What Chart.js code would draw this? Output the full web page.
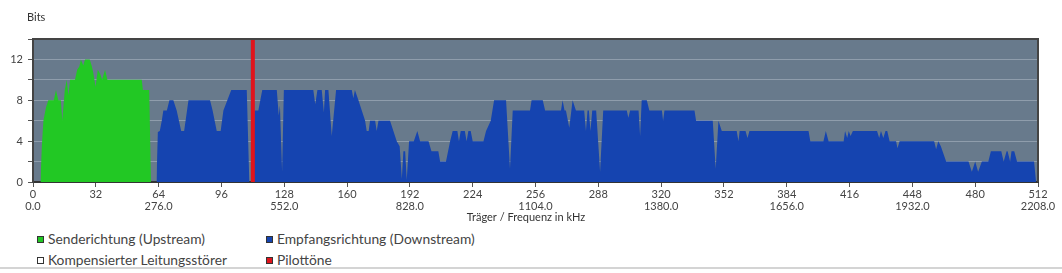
<!DOCTYPE html>
<html><head><meta charset="utf-8">
<script src="https://cdn.jsdelivr.net/npm/chart.js@4.4.1/dist/chart.umd.min.js"></script>
<style>
html,body{margin:0;padding:0;background:#fff;width:1062px;height:273px;overflow:hidden;font-family:Lato,"Noto Sans",sans-serif}
#wrap{position:relative;width:1062px;height:273px}
#c{position:absolute;left:0;top:0}
.leg{position:absolute;font-size:13.8px;color:#444;white-space:nowrap;line-height:16px;padding-left:11px}
.sq{position:absolute;left:0;top:5px;width:5px;height:5px;border:1px solid #333}
#sep{position:absolute;left:0;top:267px;width:1062px;height:2px;background:#d4d4d4}
</style></head>
<body><div id="wrap"><canvas id="c" width="1062" height="225"></canvas><div id="legend"></div><div id="sep"></div></div>
<script>
// ---- data (carrier index, bits) ----
const upstreamPoints = [[3.8,0],[4.5,3.5],[5.3,6],[6.6,7.3],[7.8,8],[10.6,8],[11.7,9],[12.9,8],[14.2,8],[14.9,6],[16.2,9],[17.2,10],[18.0,8.5],[18.9,10],[21.4,10],[22.5,11],[23.6,11.3],[24.4,12],[25.6,11.4],[26.5,12],[28.9,12],[30.0,11.3],[30.7,10.7],[31.9,9.3],[33.0,11],[34.2,10.6],[35.2,10],[36.7,11],[37.9,10],[55.4,10],[56.0,9],[59.2,9],[60.1,0]];
const downstreamPoints = [[62.9,0],[63.6,4.9],[64.6,5],[65.6,6],[66.4,7],[68.2,7],[69.5,8],[71.5,8],[73.2,7],[75.5,5],[77,5],[79.2,8],[90.2,8],[91.5,7],[93.6,5],[95.6,5],[97,7],[99,8],[101,9],[108.9,9],[110.2,0],[112.2,0],[112.8,7],[114.8,7],[116.8,9],[124.2,9],[125.2,6.5],[125.8,7.5],[126.9,1],[127.8,9],[142.8,9],[143.8,7.6],[144.9,9],[147.1,9],[148.2,6.8],[148.8,9],[150.5,9],[152.2,4.5],[154.4,9],[162.4,9],[163.2,8.2],[164,9],[165.8,8],[167.5,7],[169.2,6],[170,5],[171,5],[171.7,6],[174.3,6],[175.1,5],[176,6],[181.9,6],[183.6,5],[185.3,4],[186.8,3.5],[187.9,0.3],[188.7,3],[189.6,3],[190.4,0.2],[191.6,4],[194,4],[195.8,5],[197.2,4],[201.5,4],[203,3],[206.5,3],[207.4,2],[210.4,2],[212.5,4],[213.8,5],[216.2,5],[217,4],[217.9,5],[220,5],[220.9,4],[221.8,5],[223,5],[224,4],[229.5,4],[230.8,5],[233.2,6],[234.9,8],[241,8],[243,1.3],[244.4,7],[253.2,7],[254,8],[259.7,8],[260.9,7],[269,7],[269.8,8],[270.8,7],[271.5,7],[273.2,5.3],[274.9,8],[276.6,7],[280.8,7],[281.7,5],[282.5,7],[283.2,7],[284,5],[284.9,7],[286.9,7],[288.9,1],[290.5,7],[302.5,7],[303.3,6.3],[304.2,7],[308.5,7],[309.3,4.5],[310.1,8],[312.7,8],[314,7],[320.4,7],[321,6],[321.7,7],[337,7],[337.8,6],[346.3,6],[347.8,1.3],[349.2,6],[350.9,5],[358.5,5],[359.4,4],[360,5],[363,5],[364,4.3],[365,5],[395.1,5],[396,4],[402.7,4],[403.9,5],[405.3,4],[413,4],[413.7,5],[414.8,4.3],[415.6,5],[416.5,4.5],[417.7,5],[430,5],[431.1,4.3],[432,5],[433.2,4.3],[434.3,5],[435.2,5],[436.4,4],[439.7,4],[440.4,3.3],[441.5,4],[459.1,4],[460.1,3.2],[461.2,4],[462.5,3.5],[465.2,2],[476.6,2],[478.3,1],[480,2],[481.5,1],[483.4,2],[486.7,2],[488,3],[493.3,3],[494.5,2],[496,3],[496.5,3],[497.8,2],[498.5,3],[499.9,3],[501.3,2],[510,2],[511,0]];
const pilotTones = [112];
const carrierTicks = [0,32,64,96,128,160,192,224,256,288,320,352,384,416,448,480,512];
const freqTickLabels = ['0.0','','276.0','','552.0','','828.0','','1104.0','','1380.0','','1656.0','','1932.0','','2208.0'];
const bitTicks = [0,2,4,6,8,10,12,14];
const bitTickLabels = ['0','','4','','8','','12',''];
const legendNames = ['Senderichtung (Upstream)','Empfangsrichtung (Downstream)','Kompensierter Leitungsstörer','Pilottöne'];
const legendColors = ['#22c824','#1544b0','#ffffff','#e0141c'];

const FONT = 'Lato';
const plotBg = '#687a8c';

const toXY = pts => pts.map(p => ({x: p[0], y: p[1]}));

const frame = {
  id: 'frame',
  beforeDraw(chart) {
    const {ctx, chartArea: a} = chart;
    ctx.save();
    ctx.fillStyle = plotBg;
    ctx.fillRect(a.left, a.top, a.right - a.left, a.bottom - a.top);
    ctx.restore();
  },
  afterDraw(chart) {
    const {ctx, chartArea: a} = chart;
    ctx.save();
    ctx.strokeStyle = '#444';
    ctx.lineWidth = 2;
    ctx.beginPath();
    ctx.moveTo(a.left, a.bottom); ctx.lineTo(a.left, a.top); ctx.lineTo(a.right, a.top); ctx.lineTo(a.right, a.bottom);
    ctx.stroke();
    ctx.fillStyle = '#333';
    ctx.font = '11px ' + FONT;
    ctx.textBaseline = 'middle';
    ctx.textAlign = 'left';
    ctx.fillText('Bits', 27, 17);
    ctx.textAlign = 'center';
    ctx.fillText('Träger / Frequenz in kHz', 526, 217);
    ctx.restore();
  }
};

new Chart(document.getElementById('c'), {
  type: 'line',
  data: {
    datasets: [
      {label: legendNames[3], data: pilotTones.flatMap(c => [{x: c, y: 0}, {x: c, y: 14}]), borderColor: legendColors[3], borderWidth: 4, pointRadius: 0, fill: false, order: 0, borderCapStyle: 'butt'},
      {label: legendNames[0], data: toXY(upstreamPoints), borderWidth: 0, borderColor: legendColors[0], backgroundColor: legendColors[0], pointRadius: 0, fill: 'origin', order: 2},
      {label: legendNames[1], data: toXY(downstreamPoints), borderWidth: 0, borderColor: legendColors[1], backgroundColor: legendColors[1], pointRadius: 0, fill: 'origin', order: 1}
    ]
  },
  options: {
    responsive: false,
    animation: false,
    devicePixelRatio: 1,
    layout: {padding: {top: 39, right: 24, left: 0, bottom: 0}},
    plugins: {legend: {display: false}, tooltip: {enabled: false}},
    elements: {line: {tension: 0}},
    scales: {
      x: {
        type: 'linear', min: 0, max: 512,
        afterBuildTicks: s => { s.ticks = carrierTicks.map(v => ({value: v})); },
        afterFit: s => { s.height = 43; },
        grid: {drawOnChartArea: false, drawTicks: true, tickLength: 5, tickColor: '#555', color: '#555'},
        border: {display: true, color: '#333', width: 2},
        ticks: {
          autoSkip: false, maxRotation: 0, padding: 1, color: '#444',
          font: {family: FONT, size: 11, lineHeight: 1.1},
          callback: (v) => { const i = carrierTicks.indexOf(v); return [String(v), freqTickLabels[i]]; }
        }
      },
      y: {
        min: 0, max: 14,
        afterBuildTicks: s => { s.ticks = bitTicks.map(v => ({value: v})); },
        afterFit: s => { s.width = 33; },
        grid: {drawOnChartArea: true, color: 'rgba(190,200,210,0.45)', tickLength: 5, tickColor: '#555'},
        border: {display: true, color: '#444', width: 2},
        ticks: {
          padding: 5, color: '#444', font: {family: FONT, size: 11},
          callback: (v) => bitTickLabels[bitTicks.indexOf(v)]
        }
      }
    }
  },
  plugins: [frame]
});

// HTML legend (two columns)
const lg = document.getElementById('legend');
const pos = [[37, 231], [266, 231], [37, 252], [266, 252]];
const order = [0, 1, 2, 3];
order.forEach((k, i) => {
  const d = document.createElement('div');
  d.className = 'leg';
  d.style.left = pos[i][0] + 'px';
  d.style.top = pos[i][1] + 'px';
  const s = document.createElement('span');
  s.className = 'sq';
  s.style.background = legendColors[k];
  d.appendChild(s);
  d.appendChild(document.createTextNode(legendNames[k]));
  lg.appendChild(d);
});
</script></body></html>
